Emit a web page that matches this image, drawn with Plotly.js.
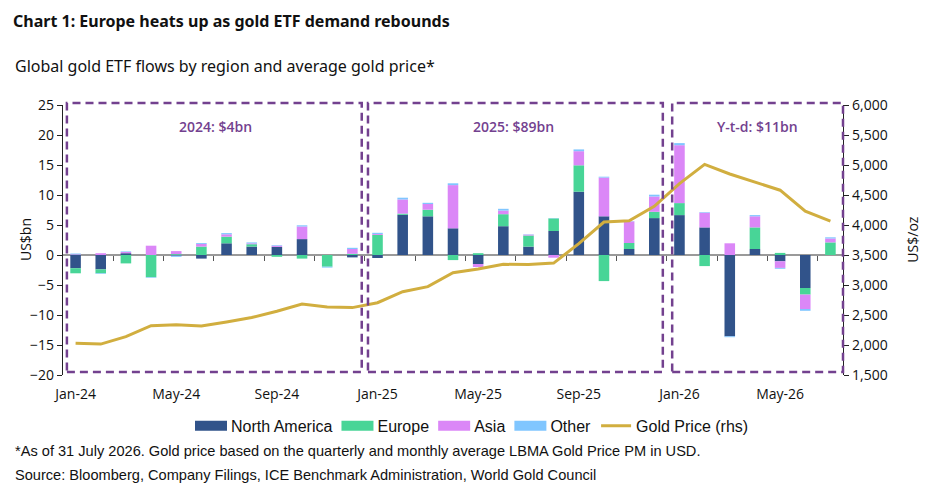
<!DOCTYPE html>
<html>
<head>
<meta charset="utf-8">
<script src="https://cdn.plot.ly/plotly-3.0.1.min.js"></script>
<style>
  html, body { margin: 0; padding: 0; background: #fff; }
  #chart { width: 927px; height: 490px; }
</style>
</head>
<body>
<div id="chart"></div>
<script>
// ---- Data ----
const months = [
  'Jan-24','Feb-24','Mar-24','Apr-24','May-24','Jun-24','Jul-24','Aug-24','Sep-24','Oct-24','Nov-24','Dec-24',
  'Jan-25','Feb-25','Mar-25','Apr-25','May-25','Jun-25','Jul-25','Aug-25','Sep-25','Oct-25','Nov-25','Dec-25',
  'Jan-26','Feb-26','Mar-26','Apr-26','May-26','Jun-26','Jul-26'
];
const tickLabels = ['Jan-24','May-24','Sep-24','Jan-25','May-25','Sep-25','Jan-26','May-26'];

const northAmerica = [
  -2.2, -2.4, 0.3, 0.0, -0.1, -0.6, 1.95, 1.4, 1.35, 2.65, 0.0, -0.4,
  -0.5, 6.7, 6.45, 4.45, -1.5, 4.8, 1.4, 4.0, 10.55, 6.45, 1.0, 6.15,
  6.65, 4.6, -13.55, 1.0, -1.05, -5.5, 0.0
];
const europe = [
  -0.85, -0.65, -1.4, -3.7, 0.15, 1.4, 1.1, 0.4, -0.3, -0.6, -1.95, 0.2,
  3.35, 0.2, 1.1, -0.85, 0.3, 2.0, 1.85, 2.1, 4.4, -4.35, 1.0, 1.05,
  2.0, -1.85, 0.0, 3.6, 0.35, -1.1, 2.1
];
const asia = [
  0.1, 0.3, 0.2, 1.55, 0.5, 0.45, 0.4, 0.15, 0.2, 2.1, 0.0, 0.8,
  0.15, 2.35, 0.95, 7.2, -0.5, 0.6, 0.15, -0.45, 2.35, 6.45, 3.6, 2.55,
  9.65, 2.45, 1.95, 1.85, -1.1, -2.4, 0.65
];
const other = [
  0.15, -0.1, 0.1, -0.1, -0.2, 0.15, 0.2, 0.15, 0.1, 0.2, -0.15, 0.2,
  0.2, 0.3, 0.2, 0.3, 0.0, 0.3, 0.05, 0.05, 0.3, 0.15, 0.05, 0.3,
  0.35, 0.1, -0.15, 0.2, -0.15, -0.3, 0.2
];
const goldPrice = [
  2028, 2015, 2140, 2322, 2339, 2318, 2384, 2457, 2562, 2684, 2634, 2623,
  2705, 2889, 2972, 3205, 3267, 3345, 3340, 3365, 3690, 4050, 4070, 4310,
  4690, 5010, 4850, 4710, 4580, 4230, 4065
];
const periodLabels = ['2024: $4bn', '2025: $89bn', 'Y-t-d: $11bn'];
const zeroTickPos = [1.5, 3.5, 5.5, 7.5, 9.5, 11.5, 13.5, 15.5, 17.5, 19.5, 21.5, 23.5, 25.5, 27.5, 29.5];

// ---- Styles ----
const COL = {
  na: '#31538A', eu: '#48D597', asia: '#DB87F7', other: '#80C6FF', gold: '#D1AE3F',
  purple: '#73418F'
};
const FONT = '"Open Sans", "Noto Sans", sans-serif';
const SANS = '"Liberation Sans", Arial, sans-serif';

function barTrace(name, vals, color) {
  return {
    type: 'bar', name: name, x: months, y: vals,
    marker: { color: color, line: { width: 0 } },
    hoverinfo: 'skip'
  };
}

const traces = [
  barTrace('North America', northAmerica, COL.na),
  barTrace('Europe', europe, COL.eu),
  barTrace('Asia', asia, COL.asia),
  barTrace('Other', other, COL.other),
  {
    type: 'scatter', mode: 'lines', name: 'Gold Price (rhs)',
    x: months, y: goldPrice, yaxis: 'y2',
    line: { color: COL.gold, width: 3 }, hoverinfo: 'skip'
  },
  {
    type: 'scatter', mode: 'markers', x: [zeroTickPos[0]], y: [0],
    xaxis: 'x2', yaxis: 'y', marker: { opacity: 0, size: 1 },
    showlegend: false, hoverinfo: 'skip'
  }
];

const boxes = [
  [0.005, 0.383], [0.391, 0.769], [0.781, 1.0]
];
const labelX = [0.195, 0.578, 0.890];

const shapes = boxes.map(b => ({
  type: 'rect', xref: 'paper', yref: 'paper',
  x0: b[0], x1: b[1], y0: 0.011, y1: 1.007,
  line: { color: COL.purple, width: 2.5, dash: '8px,5px' },
  fillcolor: 'rgba(0,0,0,0)'
}));

const annotations = periodLabels.map((t, i) => ({
  text: t, xref: 'paper', yref: 'paper', x: labelX[i], y: 0.922,
  xanchor: 'center', yanchor: 'middle', showarrow: false,
  font: { family: FONT, size: 14, color: COL.purple, weight: 600 }
}));

annotations.push({
  text: 'Global gold ETF flows by region and average gold price*',
  xref: 'paper', yref: 'paper', x: -0.064, y: 1.144,
  xanchor: 'left', yanchor: 'middle', showarrow: false,
  font: { family: '"Noto Sans", sans-serif', size: 16, color: '#111' }
});
annotations.push({
  text: '*As of 31 July 2026. Gold price based on the quarterly and monthly average LBMA Gold Price PM in USD.',
  xref: 'paper', yref: 'paper', x: -0.064, y: -0.281,
  xanchor: 'left', yanchor: 'middle', showarrow: false,
  font: { family: SANS, size: 14.6, color: '#111' }
});
annotations.push({
  text: 'Source: Bloomberg, Company Filings, ICE Benchmark Administration, World Gold Council',
  xref: 'paper', yref: 'paper', x: -0.064, y: -0.370,
  xanchor: 'left', yanchor: 'middle', showarrow: false,
  font: { family: SANS, size: 14.6, color: '#111' }
});
annotations.push({
  text: 'US$bn', xref: 'paper', yref: 'paper', x: -0.0487, y: 0.5,
  xanchor: 'center', yanchor: 'middle', textangle: -90, showarrow: false,
  font: { family: FONT, size: 14, color: '#111' }
});
annotations.push({
  text: 'US$/oz', xref: 'paper', yref: 'paper', x: 1.088, y: 0.5,
  xanchor: 'center', yanchor: 'middle', textangle: -90, showarrow: false,
  font: { family: FONT, size: 14, color: '#111' }
});

const layout = {
  width: 927, height: 490,
  margin: { l: 63, r: 84, t: 105, b: 115 },
  paper_bgcolor: '#fff', plot_bgcolor: '#fff',
  barmode: 'relative', bargap: 0.58,
  showlegend: true,
  title: {
    text: '<b>Chart 1: Europe heats up as gold ETF demand rebounds</b>',
    x: 0.014, xanchor: 'left', xref: 'container',
    y: 0.957, yanchor: 'middle', yref: 'container',
    font: { family: '"Noto Sans", sans-serif', size: 16, color: '#111' }
  },
  xaxis: {
    type: 'category', range: [-0.5, 30.5],
    tickmode: 'array', tickvals: tickLabels, ticktext: tickLabels,
    ticks: '', showline: false, showgrid: false, zeroline: false,
    tickfont: { family: FONT, size: 14, color: '#111' },
    ticklabelstandoff: 9
  },
  xaxis2: {
    overlaying: 'x', anchor: 'free', position: 0.4444, side: 'bottom',
    range: [-0.5, 30.5], tickmode: 'array', tickvals: zeroTickPos,
    ticks: 'outside', ticklen: 5, tickwidth: 1, tickcolor: '#555',
    showticklabels: false, showline: false, showgrid: false, zeroline: false
  },
  yaxis: {
    range: [-20, 25], dtick: 5, tick0: 0,
    showgrid: false, zeroline: true, zerolinecolor: '#9a9a9a', zerolinewidth: 1.5,
    showline: true, linecolor: '#222', linewidth: 1.2,
    ticks: 'outside', ticklen: 5, tickcolor: '#222',
    tickfont: { family: FONT, size: 14, color: '#111' }
  },
  yaxis2: {
    overlaying: 'y', side: 'right', anchor: 'x',
    range: [1500, 6000], dtick: 500, tick0: 1500, tickformat: ',d',
    showgrid: false, zeroline: false,
    showline: true, linecolor: '#222', linewidth: 1.2,
    ticks: 'outside', ticklen: 5, tickcolor: '#222',
    tickfont: { family: FONT, size: 14, color: '#111' }
  },
  legend: {
    orientation: 'h', x: 0.525, xanchor: 'center', y: -0.125, yanchor: 'top',
    font: { family: SANS, size: 16, color: '#111' },
    traceorder: 'normal', itemwidth: 30, bgcolor: 'rgba(0,0,0,0)'
  },
  shapes: shapes,
  annotations: annotations
};

function widenLegendIcons(gd) {
  // flatten the bar series' legend swatches into wide rectangles
  gd.querySelectorAll('.legend g.legendpoints path').forEach(p => {
    const d = p.getAttribute('d') || '';
    if (/^M6,6H-6V-6H6Z$/.test(d.replace(/\s/g, ''))) {
      p.setAttribute('d', 'M16,5H-16V-5H16Z');
    }
  });
}

Plotly.newPlot('chart', traces, layout, { staticPlot: true, displayModeBar: false }).then(gd => {
  widenLegendIcons(gd);
  setTimeout(() => widenLegendIcons(gd), 0);
  setTimeout(() => widenLegendIcons(gd), 50);
});
</script>
</body>
</html>
